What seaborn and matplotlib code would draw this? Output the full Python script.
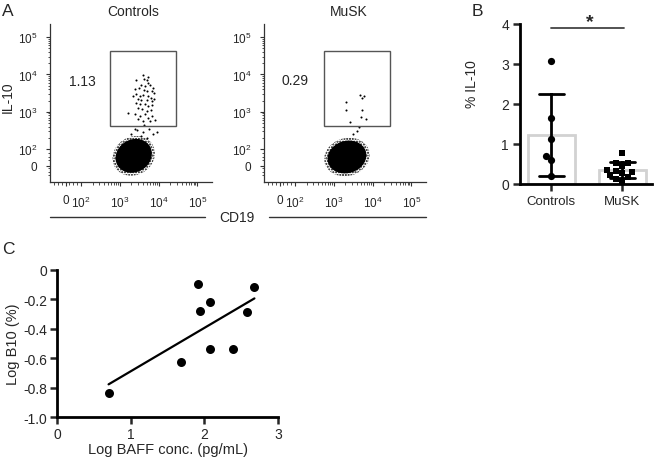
import numpy as np
import pandas as pd
import matplotlib
matplotlib.use("Agg")
import matplotlib.pyplot as plt
from matplotlib.patches import Ellipse, Rectangle
from matplotlib.lines import Line2D
import seaborn as sns

sns.set_theme(style="ticks")
plt.rcParams['font.family'] = ['Liberation Sans', 'DejaVu Sans']
plt.rcParams['mathtext.fontset'] = 'custom'
plt.rcParams['mathtext.rm'] = 'Liberation Sans'
plt.rcParams['hatch.linewidth'] = 1.0

# ---------------- data ----------------
# Panel A (flow): log-display coordinates
flow_tick_pos = [1.6, 2.0, 3.0, 4.0, 5.0]
flow_xtick_labels = ['0', r'$\mathregular{10^{2}}$', r'$\mathregular{10^{3}}$',
                     r'$\mathregular{10^{4}}$', r'$\mathregular{10^{5}}$']
flow_ytick_pos = [1.55, 2.0, 3.0, 4.0, 5.0]
flow_titles = ['Controls', 'MuSK']
flow_pct = ['1.13', '0.29']
gate_x = [2.74, 4.46]
gate_y = [2.61, 4.62]
blob_center_x = [3.36, 3.34]
blob_center_y = [1.82, 1.79]
blob_w = [0.98, 1.02]
blob_h = [0.86, 0.86]
blob_angle = [38, 20]

ctrl_evt_x = [3.61, 3.74, 3.63, 3.41, 3.69, 3.74, 3.56, 3.65, 3.78, 3.87, 3.39, 3.49,
              3.63, 3.69, 3.82, 3.89, 3.35, 3.43, 3.52, 3.61, 3.74, 3.81, 3.48, 3.56,
              3.69, 3.82, 3.89, 3.41, 3.52, 3.65, 3.74, 3.84, 3.20, 3.48, 3.58, 3.69,
              3.81, 3.39, 3.52, 3.65, 3.74, 3.82, 3.48, 3.61, 3.78, 3.91,
              3.45, 3.60, 3.75, 3.85, 3.30, 3.55, 3.70, 3.95, 3.62, 3.40]
ctrl_evt_y = [3.98, 3.93, 3.89, 3.84, 3.84, 3.78, 3.72, 3.69, 3.72, 3.63, 3.60, 3.63,
              3.57, 3.55, 3.55, 3.51, 3.42, 3.47, 3.42, 3.45, 3.42, 3.38, 3.33, 3.31,
              3.31, 3.29, 3.33, 3.24, 3.22, 3.20, 3.16, 3.18, 2.98, 3.11, 3.07, 3.02,
              3.04, 2.93, 2.89, 2.93, 2.84, 2.89, 2.80, 2.76, 2.74, 2.77,
              2.50, 2.45, 2.55, 2.40, 2.40, 2.35, 2.30, 2.45, 2.65, 2.55]
musk_evt_x = [3.68, 3.78, 3.72, 3.32, 3.32, 3.72, 3.71, 3.82, 3.43, 3.65, 3.59, 3.50]
musk_evt_y = [3.45, 3.42, 3.36, 3.27, 3.04, 3.04, 2.85, 2.80, 2.73, 2.58, 2.49, 2.40]

# Panel B
groups = ['Controls', 'MuSK']
ctrl_il10 = [3.07, 1.66, 1.13, 0.71, 0.59, 0.19]
musk_il10 = [0.77, 0.53, 0.52, 0.45, 0.36, 0.33, 0.30, 0.28, 0.22, 0.17, 0.13, 0.08]

# Panel C
baff = [0.70, 1.68, 1.915, 1.94, 2.08, 2.08, 2.39, 2.58, 2.68]
b10 = [-0.835, -0.627, -0.10, -0.28, -0.217, -0.537, -0.537, -0.289, -0.115]

# ---------------- figure ----------------
W, H = 657, 460
fig = plt.figure(figsize=(W / 100, H / 100), dpi=100)

def ax_px(l, t, r, b):
    return fig.add_axes([l / W, 1 - b / H, (r - l) / W, (b - t) / H])

def ftxt(x, y, s, **kw):
    fig.text(x / W, 1 - y / H, s, ha='center', va='center', **kw)

flow_axes = [ax_px(50, 25, 212, 183), ax_px(264, 25, 426, 183)]
evts = [(ctrl_evt_x, ctrl_evt_y), (musk_evt_x, musk_evt_y)]
for i, ax in enumerate(flow_axes):
    ex, ey = evts[i]
    ax.add_patch(Ellipse((blob_center_x[i], blob_center_y[i]), blob_w[i] * 1.17, blob_h[i] * 1.17,
                         angle=blob_angle[i], facecolor='none', edgecolor='black',
                         hatch='......', linewidth=0, zorder=1))
    ax.add_patch(Ellipse((blob_center_x[i], blob_center_y[i]), blob_w[i], blob_h[i],
                         angle=blob_angle[i], facecolor='black', edgecolor='none', zorder=2))
    sns.scatterplot(x=ex, y=ey, ax=ax, color='black', s=2.2, linewidth=0, zorder=3)
    ax.add_patch(Rectangle((gate_x[0], gate_y[0]), gate_x[1] - gate_x[0], gate_y[1] - gate_y[0],
                           facecolor='none', edgecolor='#555555', linewidth=1.0, zorder=4))
    ax.set_xlim(1.2, 5.38)
    ax.set_ylim(1.12, 5.35)
    ax.set_xticks(flow_tick_pos)
    ax.set_xticklabels(flow_xtick_labels, fontsize=8.5)
    ax.set_yticks(flow_ytick_pos)
    ax.set_yticklabels(flow_xtick_labels, fontsize=8.5)
    minors = [n + np.log10(k) for n in (2, 3, 4) for k in range(2, 10)] + [1.3, 1.4, 1.5, 1.7, 1.8, 1.9]
    ax.set_xticks(minors, minor=True)
    ax.set_yticks(minors, minor=True)
    ax.tick_params(which='major', length=3, width=0.8, color='#333333', pad=6)
    ax.tick_params(which='minor', length=1.8, width=0.6, color='#333333')
    for sp in ('top', 'right'):
        ax.spines[sp].set_visible(False)
    for sp in ('left', 'bottom'):
        ax.spines[sp].set_linewidth(0.9)
        ax.spines[sp].set_color('#333333')
    ax.set_xlabel('')
    ax.set_ylabel('')

ftxt(133, 12, flow_titles[0], fontsize=10)
ftxt(349, 12, flow_titles[1], fontsize=10)
ftxt(82, 82, flow_pct[0], fontsize=10)
ftxt(295, 81, flow_pct[1], fontsize=10)
ftxt(8, 97, 'IL-10', fontsize=10, rotation=90)
ftxt(237, 218, 'CD19', fontsize=10)
fig.add_artist(Line2D([50 / W, 205 / W], [1 - 218 / H, 1 - 218 / H], color='#333333', lw=1))
fig.add_artist(Line2D([269 / W, 426 / W], [1 - 218 / H, 1 - 218 / H], color='#333333', lw=1))

# Panel labels
ftxt(8, 11, 'A', fontsize=12.5)
ftxt(477, 11, 'B', fontsize=12.5)
ftxt(8, 250, 'C', fontsize=12.5)

# ---------------- Panel B ----------------
axB = ax_px(520, 25, 652, 185)
dfB = pd.DataFrame({'group': ['Controls'] * len(ctrl_il10) + ['MuSK'] * len(musk_il10),
                    'val': ctrl_il10 + musk_il10})
sns.barplot(data=dfB, x='group', y='val', order=groups, ax=axB, errorbar='sd',
            width=0.66, color='white', edgecolor='#d2d2d2', linewidth=2,
            capsize=0.35, err_kws={'color': 'black', 'linewidth': 2})
sns.swarmplot(data=dfB[dfB.group == 'Controls'], x='group', y='val', order=groups, ax=axB,
              color='black', marker='o', size=5.2, zorder=5)
sns.swarmplot(data=dfB[dfB.group == 'MuSK'], x='group', y='val', order=groups, ax=axB,
              color='black', marker='s', size=4.6, zorder=5)
axB.set_xlim(-0.44, 1.42)
axB.set_ylim(0, 4)
axB.set_yticks([0, 1, 2, 3, 4])
axB.tick_params(axis='both', length=5, width=1.8, labelsize=10, pad=3)
axB.tick_params(axis='x', labelsize=9.5)
for sp in ('top', 'right'):
    axB.spines[sp].set_visible(False)
for sp in ('left', 'bottom'):
    axB.spines[sp].set_linewidth(2)
    axB.spines[sp].set_color('black')
axB.set_xlabel('')
axB.set_ylabel('% IL-10', fontsize=10)
axB.yaxis.set_label_coords(-0.31, 0.63)
axB.plot([0, 1.03], [3.9, 3.9], color='#444444', lw=1.3, clip_on=False)
axB.text(0.55, 4.05, '*', ha='center', va='center', fontsize=14, fontweight='bold', clip_on=False)

# ---------------- Panel C ----------------
axC = ax_px(57, 270.7, 278, 418.3)
dfC = pd.DataFrame({'baff': baff, 'b10': b10})
sns.regplot(data=dfC, x='baff', y='b10', ax=axC, ci=None, truncate=True,
            scatter_kws={'color': 'black', 's': 42, 'linewidths': 0, 'alpha': 1, 'zorder': 3},
            line_kws={'color': 'black', 'lw': 1.6})
axC.set_xlim(0, 3)
axC.set_ylim(-1.0, 0)
axC.set_xticks([0, 1, 2, 3])
axC.set_yticks([-1.0, -0.8, -0.6, -0.4, -0.2, 0])
axC.set_yticklabels(['-1.0', '-0.8', '-0.6', '-0.4', '-0.2', '0'])
axC.tick_params(axis='both', length=5, width=1.8, labelsize=10, pad=2)
for sp in ('top', 'right'):
    axC.spines[sp].set_visible(False)
for sp in ('left', 'bottom'):
    axC.spines[sp].set_linewidth(2)
    axC.spines[sp].set_color('black')
axC.set_xlabel('Log BAFF conc. (pg/mL)', fontsize=10.5, labelpad=1)
axC.set_ylabel('Log B10 (%)', fontsize=10.5, labelpad=2)

fig.savefig('out.png', dpi=100)
